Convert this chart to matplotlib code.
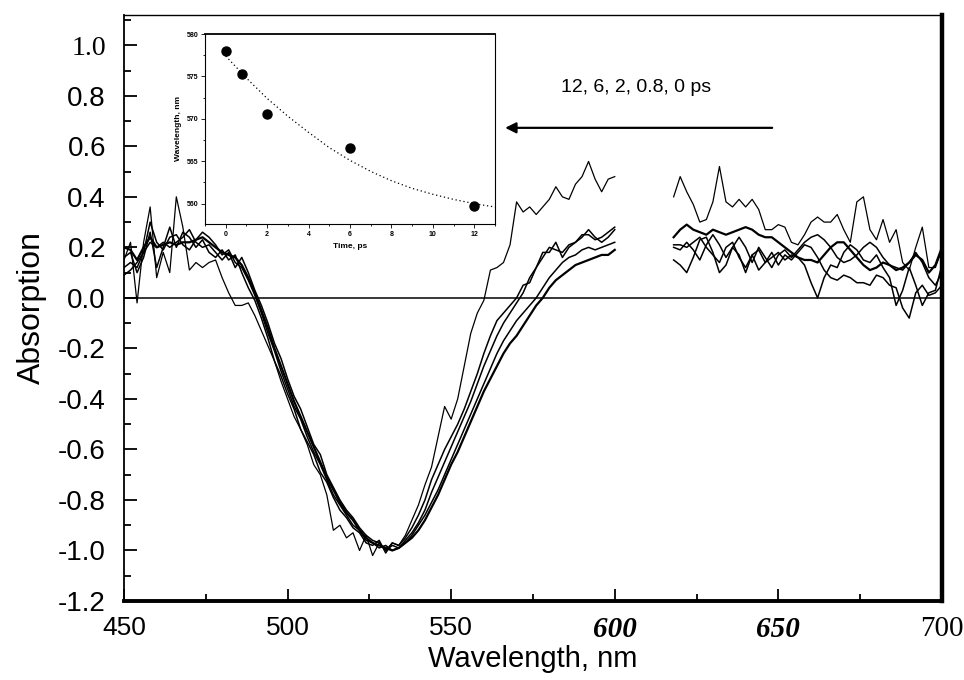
import numpy as np
import matplotlib
matplotlib.use("Agg")
import matplotlib.pyplot as plt
from matplotlib.ticker import MultipleLocator

# wavelength sampling of the two detector windows (nm)
wl_blue = np.arange(450, 601, 2)
wl_red = np.arange(618, 701, 2)

# transient spectra, 450-600 nm window
abs_0ps_blue = [0.20, 0.19, 0.15, 0.20, 0.24, 0.20, 0.21, 0.22, 0.21, 0.22, 0.22, 0.23, 0.24, 0.22, 0.20, 0.18, 0.17, 0.16, 0.13, 0.08,
                0.02, -0.05, -0.12, -0.20, -0.27, -0.34, -0.41, -0.47, -0.53, -0.59, -0.65, -0.71, -0.76, -0.81, -0.85, -0.88, -0.92, -0.95, -0.97, -0.98,
                -0.99, -1.00, -0.99, -0.97, -0.95, -0.92, -0.88, -0.83, -0.78, -0.72, -0.66, -0.61, -0.55, -0.49, -0.43, -0.37, -0.32, -0.27, -0.22, -0.18,
                -0.15, -0.11, -0.07, -0.03, 0.00, 0.04, 0.07, 0.09, 0.11, 0.13, 0.14, 0.15, 0.16, 0.17, 0.17, 0.19]
abs_08ps_blue = [0.12, 0.14, 0.12, 0.18, 0.30, 0.22, 0.19, 0.24, 0.25, 0.21, 0.19, 0.23, 0.26, 0.24, 0.21, 0.17, 0.19, 0.14, 0.12, 0.07,
                 0.01, -0.06, -0.14, -0.21, -0.29, -0.36, -0.43, -0.48, -0.55, -0.61, -0.66, -0.72, -0.78, -0.82, -0.86, -0.90, -0.92, -0.96, -0.97, -0.99,
                 -0.98, -1.00, -0.99, -0.97, -0.94, -0.90, -0.86, -0.81, -0.76, -0.70, -0.64, -0.58, -0.52, -0.46, -0.40, -0.34, -0.28, -0.22, -0.17, -0.13,
                 -0.09, -0.06, -0.03, 0.00, 0.04, 0.08, 0.11, 0.14, 0.16, 0.17, 0.19, 0.20, 0.19, 0.20, 0.21, 0.22]
abs_2ps_blue = [0.09, 0.11, 0.14, 0.18, 0.22, 0.20, 0.22, 0.20, 0.22, 0.24, 0.27, 0.22, 0.20, 0.21, 0.18, 0.15, 0.18, 0.12, 0.16, 0.10,
                0.03, -0.03, -0.10, -0.18, -0.24, -0.32, -0.39, -0.44, -0.51, -0.58, -0.62, -0.70, -0.75, -0.80, -0.84, -0.87, -0.91, -0.94, -0.96, -0.97,
                -1.00, -0.98, -0.99, -0.96, -0.93, -0.89, -0.84, -0.77, -0.71, -0.65, -0.59, -0.53, -0.47, -0.41, -0.34, -0.27, -0.21, -0.15, -0.10, -0.06,
                -0.02, 0.02, 0.08, 0.12, 0.16, 0.20, 0.19, 0.18, 0.21, 0.22, 0.25, 0.25, 0.23, 0.24, 0.26, 0.28]
abs_6ps_blue = [0.16, 0.18, 0.10, 0.16, 0.26, 0.12, 0.20, 0.28, 0.20, 0.26, 0.24, 0.20, 0.23, 0.18, 0.16, 0.19, 0.15, 0.17, 0.10, 0.04,
                -0.01, -0.08, -0.16, -0.25, -0.31, -0.38, -0.44, -0.52, -0.57, -0.62, -0.69, -0.73, -0.79, -0.84, -0.87, -0.91, -0.93, -0.97, -0.98, -0.96,
                -1.01, -0.97, -0.98, -0.95, -0.91, -0.86, -0.80, -0.72, -0.66, -0.60, -0.55, -0.50, -0.44, -0.37, -0.30, -0.22, -0.15, -0.09, -0.06, -0.03,
                0.00, 0.05, 0.06, 0.12, 0.18, 0.18, 0.22, 0.16, 0.20, 0.22, 0.24, 0.27, 0.24, 0.22, 0.24, 0.27]
abs_12ps_blue = [0.15, 0.22, -0.02, 0.22, 0.36, 0.08, 0.18, 0.10, 0.40, 0.28, 0.11, 0.14, 0.12, 0.14, 0.15, 0.08, 0.02, -0.03, -0.03, -0.02,
                 -0.07, -0.13, -0.19, -0.25, -0.33, -0.40, -0.47, -0.52, -0.58, -0.66, -0.70, -0.78, -0.92, -0.90, -0.95, -0.93, -1.00, -0.94, -1.02, -0.97,
                 -1.00, -0.97, -0.98, -0.94, -0.88, -0.82, -0.74, -0.67, -0.55, -0.43, -0.48, -0.40, -0.27, -0.14, -0.06, -0.01, 0.11, 0.12, 0.14, 0.21,
                 0.38, 0.34, 0.36, 0.33, 0.36, 0.39, 0.44, 0.40, 0.39, 0.45, 0.48, 0.54, 0.47, 0.42, 0.47, 0.48]

# transient spectra, 618-700 nm window
abs_0ps_red = [0.24, 0.27, 0.29, 0.27, 0.26, 0.25, 0.27, 0.26, 0.25, 0.26, 0.27, 0.28, 0.27, 0.25, 0.24, 0.24, 0.22, 0.20, 0.18, 0.16, 0.15,
               0.15, 0.14, 0.17, 0.20, 0.22, 0.22, 0.19, 0.16, 0.13, 0.11, 0.12, 0.14, 0.13, 0.11, 0.12, 0.14, 0.17, 0.15, 0.10, 0.13, 0.20]
abs_08ps_red = [0.20, 0.19, 0.22, 0.19, 0.15, 0.21, 0.25, 0.21, 0.16, 0.20, 0.24, 0.20, 0.14, 0.20, 0.16, 0.12, 0.17, 0.19, 0.16, 0.19, 0.22,
                0.24, 0.25, 0.23, 0.20, 0.16, 0.14, 0.15, 0.17, 0.20, 0.22, 0.20, 0.16, 0.13, 0.12, 0.11, 0.14, 0.18, 0.14, 0.08, 0.05, 0.10]
abs_2ps_red = [0.21, 0.21, 0.20, 0.22, 0.24, 0.20, 0.17, 0.14, 0.20, 0.22, 0.16, 0.12, 0.17, 0.19, 0.14, 0.16, 0.18, 0.15, 0.17, 0.16, 0.13,
               0.06, 0.00, 0.08, 0.13, 0.12, 0.18, 0.21, 0.19, 0.15, 0.14, 0.17, 0.12, 0.08, -0.03, 0.03, 0.12, 0.05, -0.03, 0.02, 0.03, 0.13]
abs_6ps_red = [0.15, 0.13, 0.10, 0.16, 0.23, 0.24, 0.18, 0.10, 0.13, 0.20, 0.17, 0.10, 0.17, 0.11, 0.14, 0.18, 0.13, 0.17, 0.15, 0.18, 0.21,
               0.20, 0.16, 0.11, 0.08, 0.07, 0.09, 0.08, 0.06, 0.06, 0.05, 0.09, 0.08, 0.05, 0.04, -0.04, -0.08, 0.02, 0.05, 0.01, 0.02, 0.05]
abs_12ps_red = [0.40, 0.48, 0.42, 0.37, 0.30, 0.31, 0.38, 0.52, 0.38, 0.36, 0.39, 0.36, 0.39, 0.35, 0.27, 0.27, 0.29, 0.28, 0.22, 0.21, 0.25,
                0.30, 0.32, 0.30, 0.30, 0.33, 0.27, 0.22, 0.38, 0.40, 0.27, 0.23, 0.31, 0.22, 0.27, 0.14, 0.11, 0.20, 0.28, 0.12, 0.12, 0.19]

blue_sets = [abs_0ps_blue, abs_08ps_blue, abs_2ps_blue, abs_6ps_blue, abs_12ps_blue]
red_sets = [abs_0ps_red, abs_08ps_red, abs_2ps_red, abs_6ps_red, abs_12ps_red]
line_widths = [1.6, 1.1, 1.1, 1.1, 0.9]

# inset: zero-crossing wavelength vs delay
inset_time = [0, 0.8, 2, 6, 12]
inset_wl = [578.0, 575.3, 570.6, 566.6, 559.7]
fit_time = [0, 1, 2, 3, 4, 5, 6, 7, 8, 9, 10, 11, 12, 13]
fit_wl = [577.4, 574.8, 572.4, 570.3, 568.4, 566.6, 565.1, 563.8, 562.7, 561.8, 561.1, 560.5, 560.0, 559.6]

y_ticks = [-1.2, -1.0, -0.8, -0.6, -0.4, -0.2, 0.0, 0.2, 0.4, 0.6, 0.8, 1.0]
y_labels = ["-1.2", "-1.0", "-0.8", "-0.6", "-0.4", "-0.2", "0.0", "0.2", "0.4", "0.6", "0.8", "1.0"]
x_ticks = [450, 500, 550, 600, 650, 700]
x_labels = ["450", "500", "550", "600", "650", "700"]

sans = ["Liberation Sans", "DejaVu Sans"]
serif = ["Liberation Serif", "DejaVu Serif"]

fig = plt.figure(figsize=(9.64, 6.8), dpi=100)
ax = fig.add_axes([0.1286, 0.1162, 0.8485, 0.8618])

for blue, red, lw in zip(blue_sets, red_sets, line_widths):
    ax.plot(wl_blue, blue, color="black", lw=lw)
    ax.plot(wl_red, red, color="black", lw=lw)
ax.axhline(0, color="black", lw=1.1)

ax.set_xlim(450, 700)
ax.set_ylim(-1.2, 1.12)
ax.set_xticks(x_ticks)
ax.set_xticklabels(x_labels)
ax.set_yticks(y_ticks)
ax.set_yticklabels(y_labels)
ax.xaxis.set_minor_locator(MultipleLocator(25))
ax.yaxis.set_minor_locator(MultipleLocator(0.1))
ax.tick_params(which="both", direction="in", top=False, right=False, width=1.3)
ax.tick_params(which="major", length=9)
ax.tick_params(which="minor", length=5)
ax.tick_params(axis="y", pad=13)
ax.tick_params(axis="x", pad=11)

for lab in ax.get_yticklabels():
    lab.set_family(serif if lab.get_text() == "1.0" else sans)
    lab.set_fontsize(20)
for lab in ax.get_xticklabels():
    t = lab.get_text()
    if t in ("600", "650"):
        lab.set_family(serif)
        lab.set_style("italic")
        lab.set_weight("bold")
        lab.set_fontsize(21)
    elif t == "700":
        lab.set_family(serif)
        lab.set_fontsize(21)
    else:
        lab.set_family(sans)
        lab.set_fontsize(19)

ax.spines["left"].set_linewidth(1.3)
ax.spines["top"].set_linewidth(1.0)
ax.spines["bottom"].set_linewidth(2.8)
ax.spines["right"].set_linewidth(3.2)

ax.set_ylabel("Absorption", family=sans, fontsize=23, labelpad=8)
ax.set_xlabel("Wavelength, nm", family=sans, fontsize=21, labelpad=1)

fig.text(0.66, 0.871, "12, 6, 2, 0.8, 0 ps", family=sans, fontsize=14,
         ha="center", va="center")
ax.annotate("", xy=(0.524, 0.812), xycoords="figure fraction",
            xytext=(0.801, 0.812), textcoords="figure fraction",
            arrowprops=dict(arrowstyle="-|>", color="black", lw=1.6,
                            mutation_scale=16, shrinkA=0, shrinkB=0))

# inset
ins = fig.add_axes([0.2127, 0.6706, 0.3008, 0.2794])
ins.plot(fit_time, fit_wl, color="black", lw=0.9, linestyle=(0, (1, 2.2)))
ins.plot(inset_time, inset_wl, "o", color="black", markersize=6.5)
ins.set_xlim(-1, 13)
ins.set_ylim(557.6, 580)
ins.set_xticks([0, 2, 4, 6, 8, 10, 12])
ins.set_yticks([560, 565, 570, 575, 580])
ins.xaxis.set_minor_locator(MultipleLocator(1))
ins.yaxis.set_minor_locator(MultipleLocator(2.5))
ins.tick_params(which="both", direction="out", top=False, right=False,
                labelsize=5, width=0.6, pad=2)
ins.tick_params(which="major", length=3)
ins.tick_params(which="minor", length=1.5)
for lab in ins.get_xticklabels() + ins.get_yticklabels():
    lab.set_family(sans)
    lab.set_weight("bold")
for s in ins.spines.values():
    s.set_linewidth(0.8)
ins.spines["top"].set_linewidth(1.3)
ins.set_xlabel("Time, ps", family=sans, fontsize=6, weight="bold", labelpad=4)
ins.set_ylabel("Wavelength, nm", family=sans, fontsize=6, weight="bold", labelpad=3)

fig.savefig("out.png", dpi=100)
